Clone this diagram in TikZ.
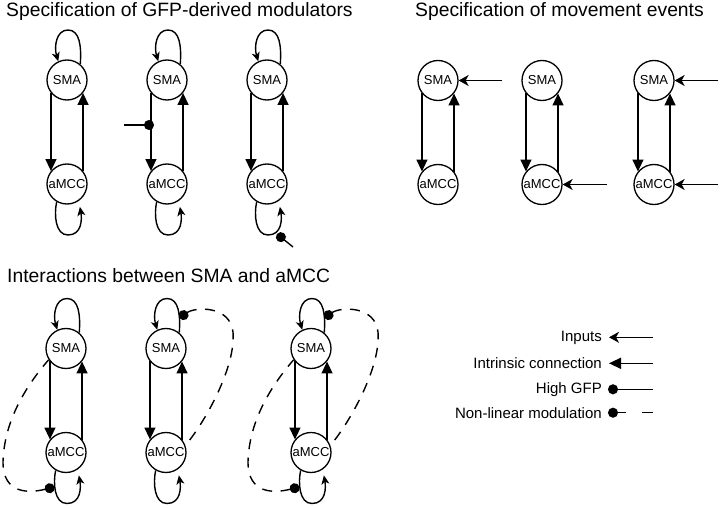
\documentclass[tikz,border=0pt]{standalone}
\usepackage{fontspec}
\setmainfont{Liberation Sans}
\usetikzlibrary{arrows.meta}
\tikzset{
 area/.style={circle, draw, line width=1.3pt, minimum size=40pt, inner sep=0pt, font=\fontsize{13}{15}\selectfont},
 conn/.style={line width=1.4pt, -{Triangle[length=12pt,width=11pt]}},
 selfloop/.style={line width=1.4pt, -{Stealth[length=9pt,width=8pt,inset=2.5pt]}},
 inp/.style={line width=1.4pt, -{Stealth[length=10pt,width=11pt,inset=3pt]}},
 gfp/.style={line width=1.4pt, -{Circle[length=10pt]}},
 nonlin/.style={line width=1.4pt, dash pattern=on 10pt off 8.5pt, {Circle[length=10pt]}-},
 title/.style={anchor=base west, font=\fontsize{19.3}{22}\selectfont, inner sep=0pt},
 legend/.style={anchor=base east, font=\fontsize{15}{18}\selectfont, inner sep=0pt}
}
\newcommand\mkpair[3]{%
 \node[area] (#1s) at (#2,#3+52) {SMA};
 \node[area] (#1a) at (#2,#3-52) {aMCC};
 \draw[conn] (#1s.219) -- (#1a.141);
 \draw[conn] (#1a.39) -- (#1s.321);
 \draw[selfloop] (#1s.50) .. controls (#2+14.5,#3+52+33) and (#2+13,#3+52+50) .. (#2+1,#3+52+50)
   .. controls (#2-11,#3+52+50) and (#2-13,#3+52+33) .. (#1s.115);
 \draw[selfloop, shorten >=6pt] (#1a.240) .. controls (#2-13,#3-52-30) and (#2-12,#3-52-51) .. (#2+1,#3-52-51)
   .. controls (#2+15,#3-52-51) and (#2+15,#3-52-35) .. (#1a.-55);
}
\newcommand\mkplain[3]{%
 \node[area] (#1s) at (#2,#3+52) {SMA};
 \node[area] (#1a) at (#2,#3-52) {aMCC};
 \draw[conn] (#1s.219) -- (#1a.141);
 \draw[conn] (#1a.39) -- (#1s.321);
}
\newcommand\dashA[2]{%
 \begin{scope}[xshift=#2]
 \coordinate (#1da) at (54.5,20);
 \draw[nonlin] (#1da) .. controls (30,14) and (3,12) .. (3,45) .. controls (4,85) and (25,120) .. (#1s.213);
 \end{scope}}
\newcommand\dashB[2]{%
 \begin{scope}[xshift=#2]
 \coordinate (#1db) at (179.5,189);
 \draw[nonlin] (#1db) .. controls (195,200) and (230,202) .. (233,175) .. controls (236,140) and (205,85) .. (#1a.20);
 \end{scope}}
\begin{document}
\begin{tikzpicture}[x=1pt,y=1pt]
\useasboundingbox (0,0) rectangle (720,507);
% titles
\node[title] (t1) at (6,490) {Specification of GFP-derived modulators};
\node[title] (t2) at (415,490) {Specification of movement events};
\node[title] (t3) at (7,225) {Interactions between SMA and aMCC};
% top-left panels
\mkpair{p1}{67}{375}
\mkpair{p2}{167}{375}
\mkpair{p3}{267}{375}
\coordinate (g2) at (124,382);
\coordinate (g2e) at (154,382);
\draw[gfp] (g2) -- (g2e);
\coordinate (g3) at (293,260);
\coordinate (g3e) at (277,273);
\draw[gfp] (g3) -- (g3e);
% top-right panels
\mkplain{q1}{438}{374.5}
\mkplain{q2}{542}{374.5}
\mkplain{q3}{654}{374.5}
\coordinate (in1) at (502,426.5);
\coordinate (in2) at (607,322.5);
\coordinate (in3) at (718,426.5);
\coordinate (in4) at (718,322.5);
\draw[inp] (in1) -- (q1s.east);
\draw[inp] (in2) -- (q2a.east);
\draw[inp] (in3) -- (q3s.east);
\draw[inp] (in4) -- (q3a.east);
% bottom panels
\mkpair{r1}{66}{106.5}
\mkpair{r2}{166}{106.5}
\mkpair{r3}{311}{106.5}
\dashA{r1}{0pt}
\dashB{r2}{0pt}
\dashA{r3}{245pt}
\dashB{r3}{145pt}
% legend
\node[legend] (l1) at (602,165.3) {Inputs};
\node[legend] (l2) at (602,138.7) {Intrinsic connection};
\node[legend] (l3) at (602,113.7) {High GFP};
\node[legend] (l4) at (602,88.7) {Non-linear modulation};
\coordinate (e1a) at (653,169.7); \coordinate (e1b) at (609,169.7);
\coordinate (e2a) at (653,143.7); \coordinate (e2b) at (609,143.7);
\coordinate (e3a) at (653,117.7); \coordinate (e3b) at (608,117.7);
\coordinate (e4a) at (653,94.3); \coordinate (e4b) at (608,94.3);
\draw[inp] (e1a) -- (e1b);
\draw[conn] (e2a) -- (e2b);
\draw[gfp] (e3a) -- (e3b);
\draw[line width=1.4pt, dash pattern=on 9pt off 16pt on 20pt off 1pt, {Circle[length=10pt]}-] (e4b) -- (e4a);
\end{tikzpicture}
\end{document}
